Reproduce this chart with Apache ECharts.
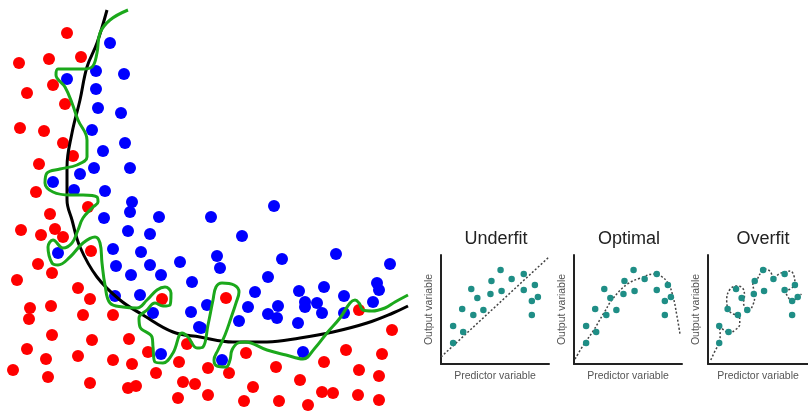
<!DOCTYPE html>
<html>
<head>
<meta charset="utf-8">
<title>Underfit / Optimal / Overfit</title>
<script src="https://cdn.jsdelivr.net/npm/echarts@6/dist/echarts.min.js"></script>
<style>
  html, body { margin: 0; padding: 0; background: #fff; }
  #chart { width: 808px; height: 412px; }
</style>
</head>
<body>
<div id="chart"></div>
<script>
// classification picture (left): points in picture units, y down
var redDots = [
  [67,33],[19,63],[49,59],[81,57],[27,93],[53,85],[65,104],[20,128],[44,131],[63,143],
  [73,156],[39,164],[36,192],[88,207],[50,214],[21,230],[41,235],[55,229],[63,237],[91,251],
  [38,264],[52,273],[17,280],[78,288],[90,299],[30,308],[29,319],[51,306],[83,315],[113,315],
  [162,299],[52,335],[92,340],[129,339],[148,352],[27,349],[46,359],[78,356],[113,360],[132,364],
  [13,370],[48,377],[90,383],[156,373],[128,388],[136,386],[179,362],[183,382],[195,384],[178,398],
  [208,395],[208,368],[187,344],[226,298],[359,310],[392,330],[246,353],[346,350],[382,354],[229,373],
  [276,367],[324,362],[359,370],[379,376],[300,380],[253,387],[244,401],[279,401],[308,405],[322,392],
  [333,393],[358,395],[379,400]
];
var blueDots = [
  [110,43],[96,71],[124,74],[67,79],[96,89],[98,108],[121,113],[92,130],[103,151],[125,143],
  [94,168],[130,168],[80,174],[53,182],[74,190],[105,191],[132,202],[130,212],[104,218],[159,217],
  [128,231],[150,234],[58,253],[113,249],[141,252],[116,266],[150,265],[131,275],[161,275],[180,262],
  [192,282],[115,296],[140,295],[153,313],[191,312],[199,327],[207,305],[161,354],[211,217],[274,206],
  [242,236],[217,256],[220,268],[282,259],[336,254],[390,264],[268,277],[255,292],[299,291],[324,287],
  [344,296],[377,283],[379,290],[373,302],[278,306],[248,307],[268,314],[277,318],[305,302],[305,307],
  [317,303],[322,313],[298,323],[344,313],[239,321],[201,328],[303,352],[222,360]
];
var goodBoundary = [
  [107,10],[97,43],[87,67],[80,100],[72,133],[67,167],[67,200],[72,220],[80,247],[97,277],
  [120,300],[143,315],[173,332],[200,337],[233,342],[267,342],[300,338],[333,332],[367,323],[393,313],[408,306]
];
var overfitBoundary = [
  [128,10],[110,20],[100,33],[97,53],[92,67],[83,69],[58,69],[56,75],[65,87],[72,103],
  [78,120],[87,140],[87,157],[77,165],[60,169],[47,173],[45,183],[53,192],[70,195],[83,195],
  [97,197],[98,202],[93,207],[83,218],[78,230],[72,243],[63,248],[53,240],[48,247],[52,263],
  [58,265],[70,257],[83,243],[95,237],[100,243],[102,263],[105,285],[110,303],[123,307],[137,308],
  [147,300],[157,290],[165,287],[171,293],[170,305],[163,306],[155,303],[147,310],[139,318],[140,327],
  [152,337],[153,347],[155,362],[163,363],[173,353],[182,333],[188,337],[197,348],[203,347],[208,325],
  [213,300],[216,287],[222,283],[234,285],[239,292],[236,303],[231,318],[225,335],[218,350],[214,360],
  [217,366],[226,367],[230,360],[232,350],[238,343],[245,342],[267,350],[286,355],[303,359],[315,348],
  [327,333],[340,318],[350,303],[355,300],[359,303],[363,310],[372,311],[385,308],[395,302],[408,295]
];

// the three small panels share the same points
var panelDots = [
  [59,94],[82,90],[70,85],[50,83],[30,75],[93,79],[82,74],[60,73],[36,66],[49,70],
  [96,67],[90,63],[21,55],[42,54],[32,49],[90,49],[12,38],[22,32],[12,21]
];
var underfitLine = [[0,7],[107,107]];
var optimalCurve = [
  [1,5],[10,20],[19,33],[29,50],[39,66],[53,80],[66,86],[79,90],[86,88],[93,81],[98,68],[102,48],[105,30]
];
var overfitCurve = [
  [3,4],[8,14],[12,21],[13,30],[12,38],[17,34],[22,31],[29,34],[34,40],[33,49],
  [27,50],[22,54],[20,64],[23,74],[30,78],[37,76],[39,68],[38,61],[41,55],[44,54],
  [48,59],[50,68],[49,74],[48,80],[52,84],[57,92],[61,95],[67,92],[70,85],[76,90],
  [82,92],[88,93],[92,88],[93,80],[88,75],[83,73],[85,68],[90,63],[96,67],[100,70]
];
var panelTitles = ['Underfit', 'Optimal', 'Overfit'];
var xName = 'Predictor variable';
var yName = 'Output variable';

var panelLeft = [441, 574, 708];
var panelTeal = '#1f8e86';
var font = "'Liberation Sans', Arial, sans-serif";

var grids = [{ left: 0, top: 0, width: 410, height: 412 }];
var xAxes = [{ gridIndex: 0, type: 'value', min: 0, max: 410, show: false }];
var yAxes = [{ gridIndex: 0, type: 'value', min: 0, max: 412, inverse: true, show: false }];
var titles = [];

for (var i = 0; i < 3; i++) {
    grids.push({ left: panelLeft[i], top: 255, width: 108, height: 109 });
    xAxes.push({
        gridIndex: i + 1, type: 'value', min: 0, max: 107,
        axisLine: { lineStyle: { color: '#222', width: 2 } },
        axisTick: { show: false }, axisLabel: { show: false }, splitLine: { show: false },
        name: xName, nameLocation: 'middle', nameGap: 7,
        nameTextStyle: { fontFamily: font, fontSize: 10.5, color: '#555' }
    });
    yAxes.push({
        gridIndex: i + 1, type: 'value', min: 0, max: 109,
        axisLine: { lineStyle: { color: '#222', width: 2 } },
        axisTick: { show: false }, axisLabel: { show: false }, splitLine: { show: false },
        name: yName, nameLocation: 'middle', nameGap: 6,
        nameTextStyle: { fontFamily: font, fontSize: 10.5, color: '#555' }
    });
    titles.push({
        text: panelTitles[i], left: panelLeft[i] + 50, top: 225, textAlign: 'center',
        textStyle: { fontFamily: font, fontSize: 18, fontWeight: 'normal', color: '#222' }
    });
}

var series = [
    {
        type: 'scatter', xAxisIndex: 0, yAxisIndex: 0, data: redDots,
        symbolSize: 12, itemStyle: { color: '#ff0000', opacity: 1 }, clip: false, silent: true
    },
    {
        type: 'scatter', xAxisIndex: 0, yAxisIndex: 0, data: blueDots,
        symbolSize: 12, itemStyle: { color: '#0000ff', opacity: 1 }, clip: false, silent: true
    },
    {
        type: 'line', xAxisIndex: 0, yAxisIndex: 0, data: goodBoundary, smooth: 0.4,
        showSymbol: false, z: 5, lineStyle: { color: '#000', width: 3 }
    },
    {
        type: 'line', xAxisIndex: 0, yAxisIndex: 0, data: overfitBoundary, smooth: 0.4,
        showSymbol: false, z: 6, lineStyle: { color: '#1ba81b', width: 3 }
    }
];

var fits = [underfitLine, optimalCurve, overfitCurve];
for (var j = 0; j < 3; j++) {
    series.push({
        type: 'line', xAxisIndex: j + 1, yAxisIndex: j + 1, data: fits[j],
        smooth: j === 0 ? false : 0.4, showSymbol: false, z: 3,
        lineStyle: { color: '#444', width: 1.5, type: [2, 2] }
    });
    series.push({
        type: 'scatter', xAxisIndex: j + 1, yAxisIndex: j + 1, data: panelDots,
        symbolSize: 6.5, itemStyle: { color: panelTeal, opacity: 1 }, z: 4, silent: true
    });
}

var myChart = echarts.init(document.getElementById('chart'));
myChart.setOption({
    animation: false,
    backgroundColor: '#fff',
    title: titles,
    grid: grids,
    xAxis: xAxes,
    yAxis: yAxes,
    series: series
});
</script>
</body>
</html>
